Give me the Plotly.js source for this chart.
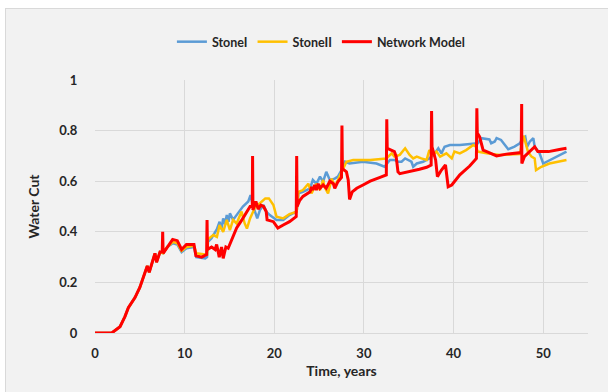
<!DOCTYPE html>
<html>
<head>
<meta charset="utf-8">
<script src="https://cdn.plot.ly/plotly-3.0.1.min.js"></script>
<style>
html,body{margin:0;padding:0;background:#ffffff;width:608px;height:392px;overflow:hidden;}
#frame{position:absolute;left:5px;top:8px;width:700px;height:500px;background:#f2f2f2;border:1px solid #d9d9d9;}
#chart{position:absolute;left:0;top:0;width:608px;height:392px;}
</style>
</head>
<body>
<div id="frame"></div>
<div id="chart"></div>
<script>
// StoneI
const timeStoneI = [0,1.86,2.79,3.34,3.72,4.46,5.0,5.57,5.83,6.05,6.32,6.69,6.87,7.25,7.6,8.06,8.7,9.18,9.66,10.2,11.04,11.3,12.3,12.5,12.6,13.0,13.6,13.9,14.1,14.3,14.5,14.7,14.9,15.05,15.4,15.8,16.2,16.5,17.1,17.35,17.6,17.85,18.1,18.4,18.8,19.1,19.5,20.25,21.0,21.7,22.5,22.7,23.2,24.0,24.3,24.7,25.1,25.45,25.8,26.2,26.75,27.1,27.5,27.9,28.4,29.9,31.4,32.3,32.9,33.4,33.8,34.2,34.6,35.3,35.5,35.9,36.6,37.3,37.9,38.3,38.65,39.0,39.6,40.7,42.2,42.7,43.1,44.0,44.2,44.6,44.8,45.3,46.1,46.8,47.4,47.75,48.0,48.2,48.5,48.9,49.05,49.6,50.0,51.1,52.6];
const waterCutStoneI = [0,0,0.025,0.065,0.10,0.14,0.18,0.24,0.265,0.24,0.275,0.315,0.28,0.32,0.315,0.34,0.355,0.35,0.32,0.335,0.34,0.30,0.295,0.30,0.36,0.375,0.41,0.44,0.41,0.453,0.43,0.466,0.44,0.473,0.447,0.466,0.486,0.50,0.52,0.545,0.506,0.48,0.453,0.486,0.506,0.48,0.466,0.447,0.447,0.466,0.48,0.552,0.558,0.572,0.605,0.59,0.618,0.598,0.637,0.605,0.61,0.618,0.644,0.677,0.67,0.677,0.67,0.657,0.684,0.684,0.677,0.677,0.69,0.677,0.657,0.67,0.677,0.69,0.71,0.73,0.71,0.736,0.743,0.743,0.747,0.75,0.77,0.765,0.75,0.757,0.77,0.763,0.726,0.737,0.75,0.77,0.776,0.736,0.756,0.77,0.736,0.71,0.67,0.69,0.717];

// StoneII
const timeStoneII = [0,1.86,2.79,3.34,3.72,4.46,5.0,5.57,5.83,6.05,6.32,6.69,6.87,7.25,7.6,8.06,8.7,9.18,9.66,10.2,11.04,11.3,12.3,12.5,12.6,13.2,13.6,13.9,14.3,14.7,15.05,15.4,15.8,16.35,16.7,16.95,17.3,17.6,17.9,18.4,19.0,19.4,19.9,20.25,21.0,21.7,22.5,22.7,23.2,23.8,24.15,24.7,25.1,25.45,25.6,26.0,26.4,26.75,27.3,27.7,28.05,28.8,30.7,32.5,33.1,33.4,34.0,34.6,35.1,35.5,35.9,36.4,37.0,37.3,37.7,38.1,38.5,39.2,39.8,40.1,40.7,41.4,42.2,42.5,42.7,43.7,45.2,47.4,47.8,48.0,48.3,48.7,49.05,49.2,49.8,50.7,52.6];
const waterCutStoneII = [0,0,0.025,0.065,0.10,0.14,0.18,0.24,0.265,0.24,0.275,0.315,0.28,0.32,0.315,0.34,0.36,0.355,0.325,0.34,0.345,0.315,0.31,0.31,0.37,0.387,0.38,0.427,0.40,0.447,0.407,0.447,0.433,0.48,0.433,0.413,0.453,0.48,0.50,0.513,0.532,0.532,0.506,0.46,0.453,0.47,0.48,0.558,0.565,0.59,0.552,0.59,0.565,0.605,0.578,0.552,0.61,0.578,0.618,0.65,0.677,0.684,0.684,0.69,0.71,0.697,0.704,0.73,0.704,0.69,0.697,0.69,0.684,0.723,0.704,0.717,0.697,0.71,0.69,0.717,0.71,0.723,0.743,0.736,0.717,0.71,0.704,0.707,0.78,0.756,0.717,0.697,0.69,0.644,0.657,0.67,0.684];

// Network Model
const timeNetwork = [0,1.86,2.79,3.34,3.72,4.46,5.0,5.57,5.83,6.05,6.32,6.69,6.87,7.25,7.5,7.55,7.6,8.06,8.66,9.18,9.66,10.2,11.04,11.26,11.9,12.45,12.5,12.55,13.0,13.4,13.57,13.86,14.12,14.3,14.6,14.86,15.4,15.8,16.35,16.9,17.3,17.55,17.58,17.62,17.95,18.2,18.5,18.8,19.1,19.2,19.9,20.4,21.0,21.7,22.45,22.5,22.55,22.85,23.2,23.6,24.0,24.15,24.3,24.5,24.7,24.9,25.1,25.45,25.8,26.2,26.6,26.75,27.1,27.5,27.55,27.6,28.05,28.25,28.4,28.7,29.2,29.9,30.7,31.8,32.5,32.55,32.6,33.1,33.4,33.6,33.8,34.0,35.1,36.2,37.0,37.5,37.55,37.6,38.0,38.2,38.65,39.1,39.4,39.8,40.7,41.8,42.55,42.6,42.65,42.9,43.1,43.3,43.7,44.8,45.9,47.0,47.55,47.6,47.62,47.9,48.5,49.05,49.4,50.6,51.8,52.6];
const waterCutNetwork = [0,0,0.025,0.065,0.10,0.14,0.18,0.24,0.265,0.24,0.275,0.315,0.28,0.32,0.32,0.40,0.315,0.34,0.37,0.365,0.33,0.35,0.35,0.305,0.30,0.31,0.447,0.33,0.34,0.33,0.35,0.30,0.34,0.295,0.34,0.335,0.38,0.415,0.445,0.48,0.50,0.50,0.70,0.486,0.52,0.49,0.505,0.50,0.48,0.447,0.44,0.415,0.427,0.44,0.46,0.70,0.50,0.525,0.54,0.55,0.558,0.578,0.565,0.585,0.565,0.59,0.572,0.585,0.572,0.60,0.59,0.572,0.598,0.615,0.82,0.65,0.637,0.605,0.528,0.558,0.572,0.585,0.60,0.615,0.625,0.845,0.73,0.722,0.717,0.697,0.637,0.63,0.637,0.647,0.655,0.664,0.877,0.736,0.684,0.618,0.644,0.664,0.578,0.585,0.625,0.66,0.69,0.888,0.79,0.776,0.75,0.723,0.717,0.70,0.707,0.71,0.713,0.905,0.67,0.697,0.717,0.736,0.717,0.717,0.725,0.73];

const seriesNames = ["StoneI", "StoneII", "Network Model"];
const xTicks = [0,10,20,30,40,50];
const yTicks = [0,0.2,0.4,0.6,0.8,1];
const yTickText = ["0","0.2","0.4","0.6","0.8","1"];

const FONT = "Lato, 'Open Sans', sans-serif";

const traces = [
  {x: timeStoneI, y: waterCutStoneI, name: seriesNames[0], mode: "lines", line: {color: "#5b9bd5", width: 2.5}},
  {x: timeStoneII, y: waterCutStoneII, name: seriesNames[1], mode: "lines", line: {color: "#ffc000", width: 2.5}},
  {x: timeNetwork, y: waterCutNetwork, name: seriesNames[2], mode: "lines", line: {color: "#ff0000", width: 3}}
];

const layout = {
  width: 608, height: 392,
  margin: {l: 95, r: 20, t: 80, b: 59, pad: 0},
  paper_bgcolor: "rgba(0,0,0,0)",
  plot_bgcolor: "rgba(0,0,0,0)",
  font: {family: FONT, size: 13, color: "#262626", weight: "bold"},
  showlegend: true,
  legend: {orientation: "h", x: 0.156, xanchor: "left", y: 1.15, yanchor: "middle",
           font: {family: FONT, size: 12.5, color: "#262626", weight: "bold"},
           bgcolor: "rgba(0,0,0,0)", itemwidth: 30, traceorder: "normal"},
  xaxis: {range: [0, 55], tickvals: xTicks, ticktext: xTicks.map(String),
          showgrid: true, gridcolor: "#d9d9d9", gridwidth: 1, zeroline: false,
          showline: true, linecolor: "#d9d9d9", linewidth: 1,
          ticks: "outside", ticklen: 8, tickcolor: "rgba(0,0,0,0)",
          tickfont: {family: FONT, size: 13, color: "#262626", weight: "bold"},
          title: {text: "Time, years", font: {family: FONT, size: 14, color: "#262626", weight: "bold"}, standoff: 6},
          fixedrange: true},
  yaxis: {range: [0, 1], tickvals: yTicks, ticktext: yTickText,
          showgrid: true, gridcolor: "#d9d9d9", gridwidth: 1, zeroline: false,
          showline: false,
          ticks: "outside", ticklen: 14, tickcolor: "rgba(0,0,0,0)",
          tickfont: {family: FONT, size: 13, color: "#262626", weight: "bold"},
          title: {text: "Water Cut", font: {family: FONT, size: 14, color: "#262626", weight: "bold"}, standoff: 16},
          fixedrange: true}
};

Plotly.newPlot("chart", traces, layout, {displayModeBar: false, staticPlot: true});
</script>
</body>
</html>
